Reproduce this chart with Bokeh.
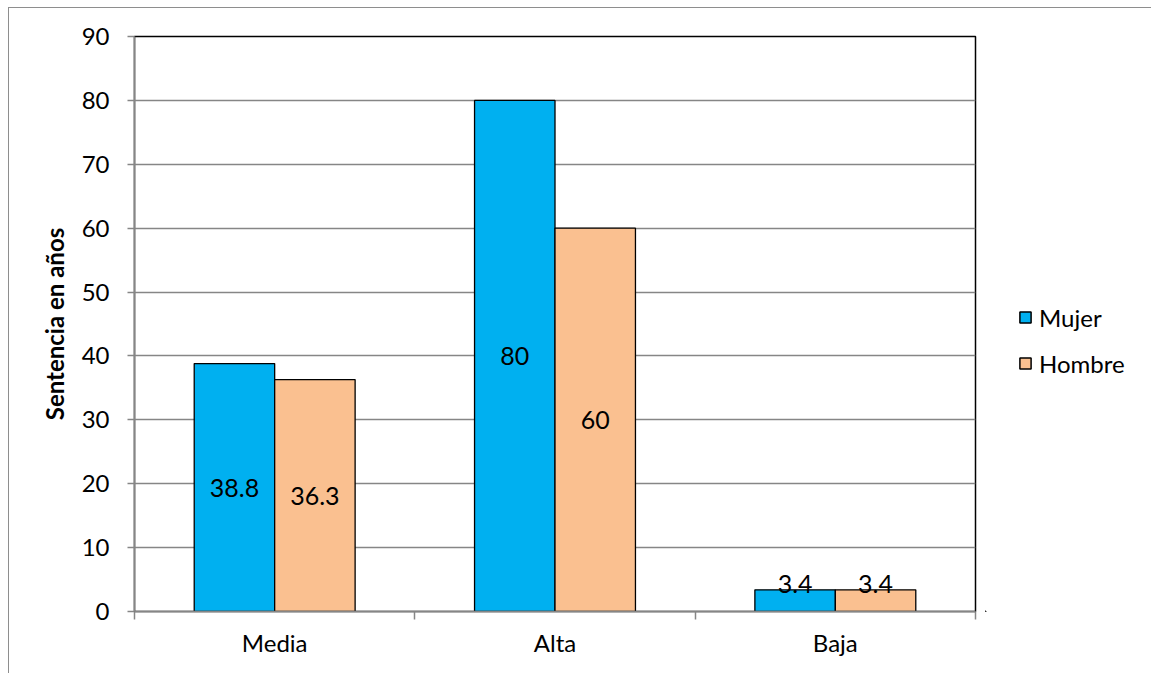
from bokeh.plotting import figure
from bokeh.models import ColumnDataSource, FixedTicker, Legend, LegendItem, Row
from bokeh.core.properties import value
from bokeh.transform import dodge
from bokeh.embed import file_html
from bokeh.resources import INLINE

categories = ["Media", "Alta", "Baja"]
series_names = ["Mujer", "Hombre"]
mujer = [38.8, 80, 3.4]
hombre = [36.3, 60, 3.4]
y_ticks = [0, 10, 20, 30, 40, 50, 60, 70, 80, 90]

FONT = "Lato"
BAR_W = 0.287
MIN_LABEL = 4.3
C_MUJER = "#00B0F0"
C_HOMBRE = "#FAC090"

xc = [i + 0.5 for i in range(len(categories))]
src = ColumnDataSource(dict(
    x=xc,
    mujer=mujer,
    hombre=hombre,
    mujer_lab=[f"{v:g}" for v in mujer],
    hombre_lab=[f"{v:g}" for v in hombre],
    mujer_ly=[max(v / 2, MIN_LABEL) for v in mujer],
    hombre_ly=[max(v / 2, MIN_LABEL) for v in hombre],
))

p = figure(width=976, height=665, output_backend="svg", toolbar_location=None,
           x_range=(0, len(categories)), y_range=(0, 90),
           min_border_left=125, min_border_top=28, min_border_bottom=62,
           min_border_right=10)

p.outline_line_color = "black"
p.outline_line_width = 1.5
p.background_fill_color = "white"
p.border_fill_color = "white"

p.vbar(x=dodge("x", -BAR_W / 2), top="mujer", width=BAR_W, source=src,
       fill_color=C_MUJER, line_color="black", line_width=1.3)
p.vbar(x=dodge("x", BAR_W / 2), top="hombre", width=BAR_W, source=src,
       fill_color=C_HOMBRE, line_color="black", line_width=1.3)

p.text(x=dodge("x", -BAR_W / 2), y="mujer_ly", text="mujer_lab", source=src,
       text_font=value(FONT), text_font_size="25px", text_align="center",
       text_baseline="middle", text_color="black")
p.text(x=dodge("x", BAR_W / 2), y="hombre_ly", text="hombre_lab", source=src,
       text_font=value(FONT), text_font_size="25px", text_align="center",
       text_baseline="middle", text_color="black")

# grid
p.xgrid.visible = False
p.ygrid.grid_line_color = "#868686"
p.ygrid.grid_line_width = 1.5
p.ygrid.ticker = FixedTicker(ticks=y_ticks)

# y axis
ya = p.yaxis[0]
ya.ticker = FixedTicker(ticks=y_ticks)
ya.axis_line_color = "#868686"
ya.axis_line_width = 1.5
ya.major_tick_line_color = "#868686"
ya.major_tick_line_width = 1.5
ya.major_tick_out = 7
ya.major_tick_in = 0
ya.minor_tick_line_color = None
ya.major_label_text_font = FONT
ya.major_label_text_font_size = "24px"
ya.major_label_text_color = "black"
ya.major_label_standoff = 18
ya.axis_label = "Sentencia en años"
ya.axis_label_text_font = FONT
ya.axis_label_text_font_style = "bold"
ya.axis_label_text_font_size = "24px"
ya.axis_label_text_color = "black"
ya.axis_label_standoff = 10

# x axis
xa = p.xaxis[0]
xa.ticker = FixedTicker(ticks=xc, minor_ticks=list(range(len(categories) + 1)))
xa.major_label_overrides = {x: c for x, c in zip(xc, categories)}
xa.axis_line_color = "#868686"
xa.axis_line_width = 1.5
xa.major_tick_line_color = None
xa.major_tick_out = 0
xa.major_tick_in = 0
xa.minor_tick_line_color = "#868686"
xa.minor_tick_line_width = 1.5
xa.minor_tick_out = 8
xa.minor_tick_in = 0
xa.major_label_text_font = FONT
xa.major_label_text_font_size = "24px"
xa.major_label_text_color = "black"
xa.major_label_standoff = 8

# legend panel (separate figure to the right; its bars lie outside its ranges)
lg = figure(width=166, height=665, output_backend="svg", toolbar_location=None,
            x_range=(100, 101), y_range=(1000, 1001),
            min_border_left=0, min_border_right=0, min_border_top=0, min_border_bottom=0)
lg.axis.visible = False
lg.grid.visible = False
lg.outline_line_color = None
lg.background_fill_color = "white"
lg.border_fill_color = "white"
l1 = lg.vbar(x="x", top="mujer", width=BAR_W, source=src,
             fill_color=C_MUJER, line_color="black", line_width=1.5)
l2 = lg.vbar(x="x", top="hombre", width=BAR_W, source=src,
             fill_color=C_HOMBRE, line_color="black", line_width=1.5)
legend = Legend(items=[LegendItem(label=series_names[0], renderers=[l1]),
                       LegendItem(label=series_names[1], renderers=[l2])],
                location=(33, 233), orientation="vertical",
                border_line_color=None, background_fill_color=None,
                padding=0, margin=0, spacing=16,
                glyph_width=14, glyph_height=14, label_height=30,
                label_standoff=7,
                label_text_font=FONT, label_text_font_size="24px",
                label_text_color="black")
lg.add_layout(legend)

layout = Row(children=[p, lg], spacing=0)
layout.styles = {"margin-left": "8px", "margin-top": "7px",
                 "border-left": "1px solid #8e8e8e", "border-top": "1px solid #8e8e8e"}

open("out.html", "w").write(file_html(layout, INLINE))
